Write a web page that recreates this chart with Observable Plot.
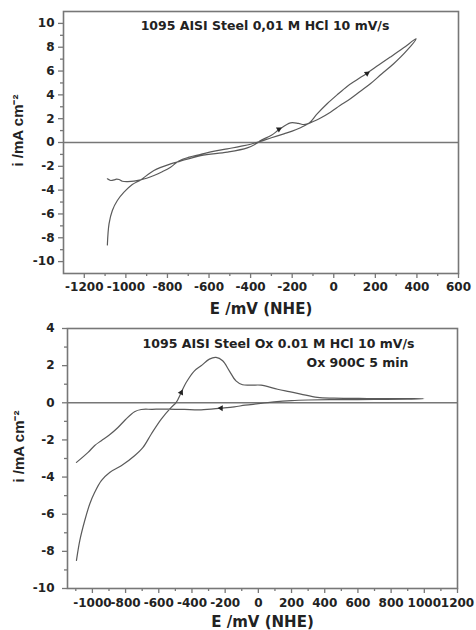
<!DOCTYPE html>
<html>
<head>
<meta charset="utf-8">
<script src="https://cdn.jsdelivr.net/npm/d3@7"></script>
<script src="https://cdn.jsdelivr.net/npm/@observablehq/plot@0.6"></script>
<style>
  html, body { margin: 0; padding: 0; background: #fff; }
  #chart svg { display: block; }
</style>
</head>
<body>
<div id="chart"></div>
<script>
// ---------- Panel 1: 1095 AISI Steel 0,01 M HCl 10 mV/s ----------
const topTitle = "1095 AISI Steel 0,01 M HCl 10 mV/s";
const topE = [-1089, -1081, -1065, -1041, -1009, -969, -929, -865, -785, -745, -640, -512, -416, -368, -352, -300, -264, -208, -170, -144, -120, -80, -32, 16, 64, 110, 160, 216, 272, 336, 396,
              352, 288, 230, 176, 128, 80, 30, -16, -70, -120, -160, -200, -240, -300, -352, -400, -450, -512, -580, -640, -700, -745, -785, -825, -865, -900, -929, -961, -993, -1017, -1033, -1045, -1057, -1073, -1089];
const topI = [-8.6, -6.83, -5.71, -4.87, -4.17, -3.53, -3.14, -2.35, -1.8, -1.6, -1.1, -0.81, -0.45, -0.05, 0.17, 0.6, 1.07, 1.65, 1.6, 1.51, 1.62, 2.4, 3.25, 4.0, 4.71, 5.25, 5.82, 6.5, 7.17, 7.95, 8.71,
              7.73, 6.61, 5.75, 4.93, 4.3, 3.67, 3.1, 2.55, 2.0, 1.6, 1.24, 0.95, 0.73, 0.4, 0.1, -0.15, -0.33, -0.53, -0.75, -1.0, -1.25, -1.55, -2.07, -2.45, -2.77, -3.0, -3.14, -3.25, -3.28, -3.25, -3.11, -3.08, -3.14, -3.19, -3.05];
const topArrowE = [-264, 160];
const topArrowI = [1.12, 5.8];
const topArrowRot = [60, 56];
const topXTicks = [-1200, -1000, -800, -600, -400, -200, 0, 200, 400, 600];
const topXMinor = [-1100, -900, -700, -500, -300, -100, 100, 300, 500];
const topYTicks = [-10, -8, -6, -4, -2, 0, 2, 4, 6, 8, 10];
const topYMinor = [-9, -7, -5, -3, -1, 1, 3, 5, 7, 9];

// ---------- Panel 2: 1095 AISI Steel Ox 0.01 M HCl 10 mV/s ----------
const botTitle = "1095 AISI Steel Ox 0.01 M HCl 10 mV/s";
const botSubtitle = "Ox 900C 5 min";
const botE = [-1096, -1076, -1046, -1016, -986, -946, -896, -826, -746, -695, -645, -585, -525, -495, -465, -435, -385, -345, -295, -255, -215, -175, -135, -95, -40, 16, 116, 186, 256, 356, 456, 657, 850, 997,
              900, 700, 500, 300, 200, 95, 0, -80, -145, -225, -345, -445, -545, -640, -706, -746, -800, -846, -900, -946, -986, -1026, -1096];
const botI = [-8.49, -7.42, -6.34, -5.45, -4.82, -4.19, -3.75, -3.39, -2.85, -2.4, -1.68, -0.88, -0.25, 0.02, 0.55, 1.09, 1.72, 1.99, 2.35, 2.44, 2.26, 1.72, 1.18, 0.97, 0.95, 0.95, 0.73, 0.6, 0.47, 0.29, 0.25, 0.23, 0.22, 0.22,
              0.2, 0.18, 0.17, 0.15, 0.12, 0.05, -0.05, -0.13, -0.22, -0.29, -0.38, -0.36, -0.34, -0.35, -0.36, -0.48, -0.9, -1.33, -1.75, -2.04, -2.3, -2.67, -3.21];
const botArrowE = [-465, -225];
const botArrowI = [0.55, -0.29];
const botArrowRot = [27, -88];
const botXTicks = [-1000, -800, -600, -400, -200, 0, 200, 400, 600, 800, 1000, 1200];
const botXMinor = [-1100, -900, -700, -500, -300, -100, 100, 300, 500, 700, 900, 1100];
const botYTicks = [-10, -8, -6, -4, -2, 0, 2, 4];
const botYMinor = [-9, -7, -5, -3, -1, 1, 3];

const xLabel = "E /mV (NHE)";
const yLabel = "i /mA cm\u207B\u00B2";

const lineColor = "#5a5a5a";
const axisColor = "#777";
const fmt = d => String(d);
const blank = () => "";

function toRows(E, I) { return E.map((e, k) => ({E: e, I: I[k]})); }
function arrowRows(E, I, R) { return E.map((e, k) => ({E: e, I: I[k], r: R[k]})); }

function panel(o) {
  return Plot.plot({
    width: 476,
    height: o.height,
    marginLeft: o.ml, marginRight: o.mr, marginTop: o.mt, marginBottom: o.mb,
    x: {domain: o.xDomain},
    y: {domain: o.yDomain},
    style: {fontFamily: "'DejaVu Sans', sans-serif", fontWeight: "bold", fontSize: "12px", color: "#222", background: "#fff"},
    marks: [
      Plot.ruleY([0], {stroke: axisColor, strokeWidth: 1.6}),
      Plot.line(toRows(o.E, o.I), {x: "E", y: "I", stroke: lineColor, strokeWidth: 1.2, curve: "catmull-rom"}),
      Plot.dot(arrowRows(o.aE, o.aI, o.aR), {x: "E", y: "I", rotate: "r", symbol: "triangle", r: 2.2, fill: "#222", stroke: "none"}),
      Plot.axisX({ticks: o.xTicks, tickSize: 5, tickPadding: o.xPad, tickFormat: fmt, stroke: axisColor, strokeWidth: 1.3, fontSize: 12, label: null}),
      Plot.axisX({ticks: o.xMinor, tickSize: 3, tickFormat: blank, stroke: axisColor, strokeWidth: 1.3, label: null}),
      Plot.axisX({ticks: [], label: xLabel, labelAnchor: "center", labelArrow: "none", labelOffset: o.xLabelOffset, fontSize: 15}),
      Plot.axisY({ticks: o.yTicks, tickSize: 5, tickPadding: o.yPad, tickFormat: fmt, stroke: axisColor, strokeWidth: 1.3, fontSize: 12, label: null}),
      Plot.axisY({ticks: o.yMinor, tickSize: 3, tickFormat: blank, stroke: axisColor, strokeWidth: 1.3, label: null}),
      Plot.text([yLabel], {frameAnchor: "top-left", rotate: -90, dx: o.yLabelDx, dy: o.yLabelDy, textAnchor: "middle", lineAnchor: "middle",
                           fontFamily: "'Liberation Sans', Arial, sans-serif", fontWeight: "bold", fontSize: 15, fill: "#222"}),
      Plot.frame({stroke: axisColor, strokeWidth: 1.6}),
      ...o.texts
    ]
  });
}

const topChart = panel({
  height: 318, ml: 63, mr: 18, mt: 11, mb: 45,
  xDomain: [-1300, 600], yDomain: [-11, 11],
  E: topE, I: topI, aE: topArrowE, aI: topArrowI, aR: topArrowRot,
  xTicks: topXTicks, xMinor: topXMinor, yTicks: topYTicks, yMinor: topYMinor,
  xPad: 4, yPad: 4, xLabelOffset: 40, yLabelDx: -45, yLabelDy: 119,
  texts: [
    Plot.text([topTitle], {frameAnchor: "top", dx: 4, dy: 14, lineAnchor: "middle", fontSize: 12.5, fontWeight: "bold", fill: "#222"})
  ]
});

const botChart = panel({
  height: 312, ml: 67, mr: 19, mt: 10, mb: 42,
  xDomain: [-1150, 1200], yDomain: [-10, 4],
  E: botE, I: botI, aE: botArrowE, aI: botArrowI, aR: botArrowRot,
  xTicks: botXTicks, xMinor: botXMinor, yTicks: botYTicks, yMinor: botYMinor,
  xPad: 5, yPad: 8, xLabelOffset: 38, yLabelDx: -48, yLabelDy: 118,
  texts: [
    Plot.text([botTitle], {frameAnchor: "top", dx: 16, dy: 15.5, lineAnchor: "middle", fontSize: 12.5, fontWeight: "bold", fill: "#222"}),
    Plot.text([botSubtitle], {frameAnchor: "top-right", textAnchor: "end", dx: -49, dy: 34, lineAnchor: "middle", fontSize: 12.5, fontWeight: "bold", fill: "#222"})
  ]
});

const root = document.getElementById("chart");
root.appendChild(topChart);
root.appendChild(botChart);
</script>
</body>
</html>
